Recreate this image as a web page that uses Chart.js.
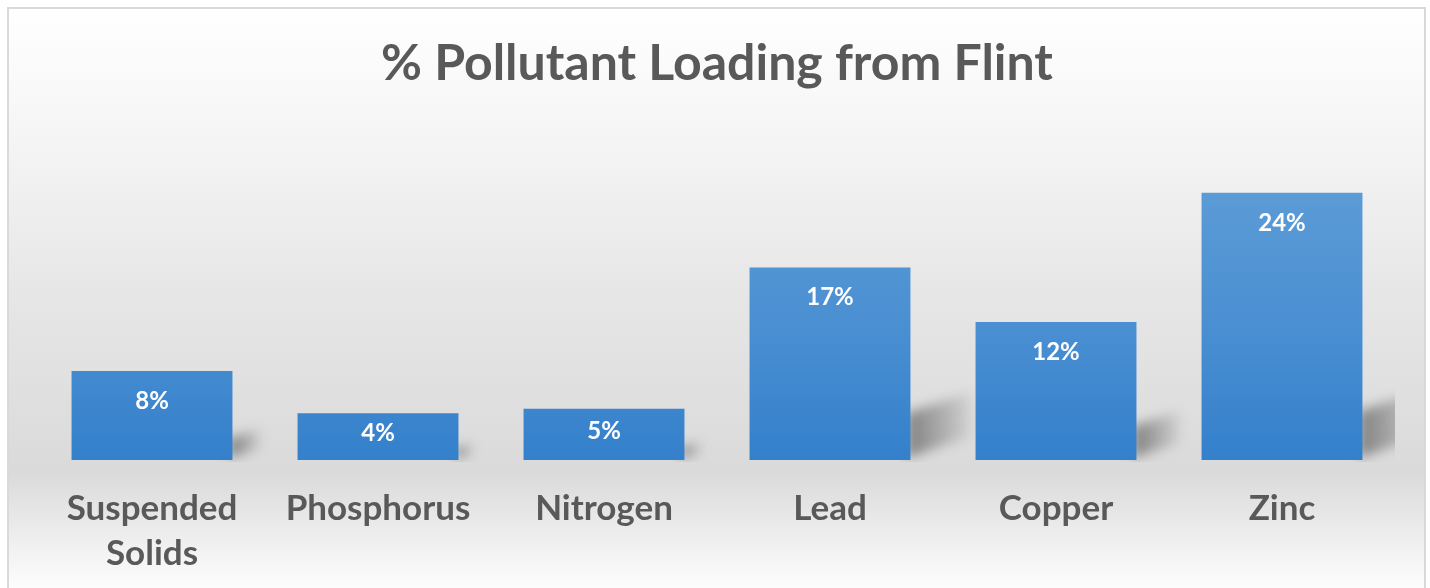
<!DOCTYPE html>
<html>
<head>
<meta charset="utf-8">
<script src="https://cdn.jsdelivr.net/npm/chart.js@4/dist/chart.umd.min.js"></script>
<style>
html,body{margin:0;padding:0;background:#ffffff;}
#wrap{position:absolute;left:0;top:0;width:1430px;height:588px;}
</style>
</head>
<body>
<div id="wrap"><canvas id="c" width="1430" height="588"></canvas></div>
<script>
const chartTitle = '% Pollutant Loading from Flint';
const categories = [['Suspended', 'Solids'], 'Phosphorus', 'Nitrogen', 'Lead', 'Copper', 'Zinc'];
const loadingPct = [8.0, 4.2, 4.6, 17.3, 12.4, 24.0];
const valueLabels = ['8%', '4%', '5%', '17%', '12%', '24%'];

const FONT = 'Lato, "Open Sans", sans-serif';
const TEXT = '#595959';

const frameBg = {
  id: 'frameBg',
  beforeDraw(chart) {
    const ctx = chart.ctx;
    ctx.save();
    ctx.fillStyle = '#ffffff';
    ctx.fillRect(0, 0, chart.width, chart.height);
    const x0 = 8, y0 = 8, x1 = 1425, y1 = 588;
    const g = ctx.createLinearGradient(0, y0, 0, y1);
    g.addColorStop(0, '#ffffff');
    g.addColorStop(0.18, '#f7f7f7');
    g.addColorStop(0.5, '#e6e6e6');
    g.addColorStop(0.8, '#dadada');
    g.addColorStop(1, '#fdfdfd');
    ctx.fillStyle = g;
    ctx.fillRect(x0, y0, x1 - x0, y1 - y0);
    ctx.strokeStyle = '#d9d9d9';
    ctx.lineWidth = 2;
    ctx.beginPath();
    ctx.moveTo(x0, y1 + 2);
    ctx.lineTo(x0, y0);
    ctx.lineTo(x1, y0);
    ctx.lineTo(x1, y1 + 2);
    ctx.stroke();
    ctx.restore();
  }
};

const barStyle = {
  id: 'barStyle',
  beforeDatasetsDraw(chart) {
    const ctx = chart.ctx;
    const area = chart.chartArea;
    const meta = chart.getDatasetMeta(0);
    ctx.save();
    ctx.beginPath();
    ctx.rect(area.left, area.top, area.right - area.left, area.bottom - area.top + 2);
    ctx.clip();
    meta.data.forEach((el) => {
      const right = el.x + el.width / 2;
      const bottom = el.base;
      const h = bottom - el.y;
      const s = Math.min(h * 0.27, 54);
      ctx.save();
      ctx.filter = 'blur(6px)';
      const sg = ctx.createLinearGradient(right, 0, right + s * 1.2, 0);
      sg.addColorStop(0, 'rgba(60,60,60,0.55)');
      sg.addColorStop(1, 'rgba(60,60,60,0.05)');
      ctx.fillStyle = sg;
      ctx.beginPath();
      ctx.moveTo(right - 4, bottom - 2);
      ctx.lineTo(right - 4, bottom - s * 0.9);
      ctx.lineTo(right + s * 1.15, bottom - s * 1.3);
      ctx.lineTo(right + s * 1.15, bottom - s * 0.45);
      ctx.closePath();
      ctx.fill();
      ctx.restore();
      const g = ctx.createLinearGradient(0, el.y, 0, bottom);
      g.addColorStop(0, '#5b9bd6');
      g.addColorStop(0.5, '#4a8fd2');
      g.addColorStop(1, '#3480cb');
      el.options.backgroundColor = g;
    });
    ctx.restore();
  }
};

const valueText = {
  id: 'valueText',
  afterDatasetsDraw(chart) {
    const ctx = chart.ctx;
    const meta = chart.getDatasetMeta(0);
    ctx.save();
    ctx.fillStyle = '#ffffff';
    ctx.font = 'bold 24px ' + FONT;
    ctx.textAlign = 'center';
    ctx.textBaseline = 'middle';
    meta.data.forEach((el, i) => {
      const h = el.base - el.y;
      const off = Math.min(30, h / 2 - 3);
      ctx.fillText(valueLabels[i], el.x, el.y + off);
    });
    ctx.restore();
  }
};

new Chart(document.getElementById('c'), {
  type: 'bar',
  data: {
    labels: categories,
    datasets: [{
      data: loadingPct,
      backgroundColor: '#4a8fd2',
      borderWidth: 0,
      categoryPercentage: 0.712,
      barPercentage: 1.0
    }]
  },
  options: {
    responsive: false,
    animation: false,
    layout: { padding: { left: 39, right: 35, top: 0, bottom: 0 } },
    plugins: {
      legend: { display: false },
      tooltip: { enabled: false },
      title: {
        display: true,
        text: chartTitle,
        color: TEXT,
        font: { family: FONT, size: 50, weight: 'bold', lineHeight: 1.2 },
        padding: { top: 34, bottom: 32 }
      }
    },
    scales: {
      x: {
        grid: { display: false, drawTicks: false },
        border: { display: false },
        afterFit(scale) { scale.height = 128; },
        ticks: {
          color: TEXT,
          font: { family: FONT, size: 35, weight: 'bold', lineHeight: 1.29 },
          padding: 26,
          maxRotation: 0,
          autoSkip: false
        }
      },
      y: {
        display: false,
        min: 0,
        max: 30
      }
    }
  },
  plugins: [frameBg, barStyle, valueText]
});
</script>
</body>
</html>
